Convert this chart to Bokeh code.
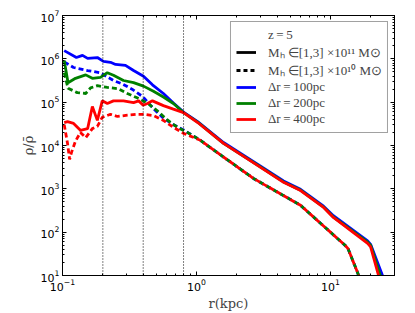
from bokeh.plotting import figure
from bokeh.models import (Range1d, LogAxis, FixedTicker, Span, Legend, LegendItem)
from bokeh.embed import file_html
from bokeh.resources import INLINE

# ---- data (r in kpc, rho/rho_bar) ----
r_b11 = [0.103, 0.127, 0.141, 0.154, 0.182, 0.202, 0.228, 0.249, 0.295, 0.339, 0.402, 0.469,
         0.566, 0.672, 0.80, 1.02, 1.59, 2.85, 4.46, 5.97, 8.87, 10.5, 18.9, 19.9, 24.4]
logrho_b11 = [6.19, 6.03, 6.08, 6.01, 6.03, 5.94, 5.92, 5.87, 5.85, 5.73, 5.60, 5.40,
              5.20, 4.98, 4.77, 4.55, 4.07, 3.57, 3.18, 2.99, 2.60, 2.38, 1.80, 1.72, 1.0]

r_g11 = [0.103, 0.11, 0.125, 0.149, 0.167, 0.192, 0.216, 0.24, 0.285, 0.339, 0.402, 0.477,
         0.566, 0.672, 0.80, 1.02, 1.59, 2.85, 4.46, 5.97, 8.87, 10.5, 18.9, 19.9, 23.5]
logrho_g11 = [5.96, 5.45, 5.55, 5.63, 5.55, 5.57, 5.68, 5.62, 5.50, 5.45, 5.37, 5.25,
              5.12, 4.97, 4.76, 4.54, 4.05, 3.55, 3.16, 2.97, 2.58, 2.35, 1.77, 1.70, 1.0]

r_r11 = [0.103, 0.109, 0.121, 0.136, 0.154, 0.167, 0.182, 0.198, 0.216, 0.24, 0.285, 0.339,
         0.37, 0.40, 0.43, 0.469, 0.566, 0.672, 0.80, 1.02, 1.59, 2.85, 4.46, 5.97, 8.87,
         10.5, 18.9, 19.9, 22.8]
logrho_r11 = [4.53, 4.55, 4.51, 4.35, 4.39, 4.90, 4.58, 5.03, 4.97, 5.03, 5.03, 4.99,
              5.03, 4.93, 4.97, 5.03, 4.92, 4.84, 4.76, 4.53, 4.05, 3.54, 3.15, 2.96, 2.57,
              2.34, 1.74, 1.66, 1.0]

r_b10 = [0.103, 0.121, 0.154, 0.19, 0.24, 0.28, 0.33, 0.40, 0.477, 0.566, 0.672, 0.80,
         1.07, 1.27, 2.66, 5.97, 12.9, 13.5, 15.9, 16.2]
logrho_b10 = [5.93, 5.80, 5.73, 5.68, 5.50, 5.42, 5.30, 5.12, 4.85, 4.63, 4.48, 4.36,
              4.12, 3.95, 3.24, 2.62, 1.69, 1.62, 1.07, 1.0]

r_g10 = [0.103, 0.11, 0.129, 0.149, 0.162, 0.182, 0.216, 0.26, 0.305, 0.36, 0.43, 0.51,
         0.60, 0.72, 0.855, 1.07, 1.27, 2.66, 5.97, 12.9, 13.5, 15.9, 16.2]
logrho_g10 = [5.68, 5.32, 5.22, 5.20, 5.33, 5.38, 5.34, 5.31, 5.20, 5.10, 4.98, 4.80,
              4.60, 4.42, 4.30, 4.12, 3.95, 3.24, 2.62, 1.69, 1.62, 1.07, 1.0]

r_r10 = [0.103, 0.109, 0.113, 0.117, 0.125, 0.136, 0.149, 0.167, 0.182, 0.198, 0.228, 0.257,
         0.305, 0.36, 0.40, 0.477, 0.566, 0.672, 0.80, 1.07, 1.27, 2.66, 5.97, 12.9, 13.5,
         15.9, 16.2]
logrho_r10 = [4.48, 4.05, 3.68, 3.85, 4.10, 4.30, 4.18, 4.39, 4.44, 4.65, 4.72, 4.67,
              4.70, 4.72, 4.72, 4.69, 4.58, 4.42, 4.28, 4.12, 3.95, 3.24, 2.62, 1.69, 1.62,
              1.07, 1.0]

resolution_radii = [0.2, 0.4, 0.8]   # kpc, vertical dotted lines

legend_labels = ["z\u2009=\u20095",
                 "M\u2095 \u2208[1,3] \u00d710\u00b9\u00b9 M\u2299",
                 "M\u2095 \u2208[1,3] \u00d710\u00b9\u2070 M\u2299",
                 "\u0394r\u2009=\u2009100pc",
                 "\u0394r\u2009=\u2009200pc",
                 "\u0394r\u2009=\u2009400pc"]

x_ticks = [0.1, 1, 10]
y_ticks = [1e1, 1e2, 1e3, 1e4, 1e5, 1e6, 1e7]


def rho(lr):
    return [10 ** v for v in lr]


p = figure(frame_width=332, frame_height=260, x_axis_type="log", y_axis_type="log",
           x_range=Range1d(0.1, 30), y_range=Range1d(10, 1e7),
           output_backend="svg", toolbar_location=None,
           min_border_left=62, min_border_right=4, min_border_top=15, min_border_bottom=30)
p.xgrid.visible = False
p.ygrid.visible = False
p.outline_line_color = "black"
p.outline_line_width = 1
p.background_fill_color = "white"
p.border_fill_color = "white"

x_minor = [m * 10 ** k for k in (-1, 0, 1) for m in range(2, 10) if m * 10 ** k <= 30]
y_minor = [m * 10 ** k for k in range(1, 7) for m in range(2, 10)]
xt = FixedTicker(ticks=x_ticks, minor_ticks=x_minor)
yt = FixedTicker(ticks=y_ticks, minor_ticks=y_minor)


def style_axis(ax, ticker, show_labels=True):
    ax.ticker = ticker
    ax.major_tick_in = 4
    ax.major_tick_out = 0
    ax.minor_tick_in = 2
    ax.minor_tick_out = 0
    ax.axis_line_color = "black"
    ax.major_tick_line_color = "black"
    ax.minor_tick_line_color = "black"
    ax.major_label_text_font = "DejaVu Sans"
    ax.major_label_text_font_size = "11px"
    ax.major_label_text_color = "black"
    ax.major_label_standoff = 3
    if not show_labels:
        ax.major_label_text_font_size = "1px"
        ax.major_label_text_color = None
        ax.major_label_standoff = 0


style_axis(p.xaxis[0], xt)
style_axis(p.yaxis[0], yt)
p.xaxis[0].axis_label = "r(kpc)"
p.yaxis[0].axis_label = "\u03c1/\u03c1\u0304"
for ax in (p.xaxis[0], p.yaxis[0]):
    ax.axis_label_text_font = "DejaVu Serif"
    ax.axis_label_text_font_size = "13px"
    ax.axis_label_text_font_style = "normal"
    ax.axis_label_standoff = 2

top = LogAxis()
right = LogAxis()
style_axis(top, xt, False)
style_axis(right, yt, False)
p.add_layout(top, "above")
p.add_layout(right, "right")

for xv in resolution_radii:
    p.add_layout(Span(location=xv, dimension="height", line_color="black",
                      line_width=1, line_dash="1 2"))

lw = 2.8
dash = "5 3"
r1 = p.line(r_b11, rho(logrho_b11), color="#0000ff", line_width=lw)
r2 = p.line(r_b10, rho(logrho_b10), color="#0000ff", line_width=lw, line_dash=dash)
r3 = p.line(r_g11, rho(logrho_g11), color="#008000", line_width=lw)
r4 = p.line(r_g10, rho(logrho_g10), color="#008000", line_width=lw, line_dash=dash)
r5 = p.line(r_r11, rho(logrho_r11), color="#ff0000", line_width=lw)
r6 = p.line(r_r10, rho(logrho_r10), color="#ff0000", line_width=lw, line_dash=dash)

# legend proxies placed outside the visible ranges
px, py = [0.01, 0.011], [1.0, 1.0]
g0 = p.line(px, py, line_alpha=0)
g1 = p.line(px, py, color="black", line_width=lw)
g2 = p.line(px, py, color="black", line_width=lw, line_dash="4 3")
g3 = p.line(px, py, color="#0000ff", line_width=lw)
g4 = p.line(px, py, color="#008000", line_width=lw)
g5 = p.line(px, py, color="#ff0000", line_width=lw)

legend = Legend(items=[LegendItem(label=l, renderers=[g]) for l, g in
                       zip(legend_labels, [g0, g1, g2, g3, g4, g5])],
                location="top_right")
legend.margin = 6
legend.padding = 5
legend.spacing = 0
legend.label_height = 16
legend.glyph_height = 16
legend.glyph_width = 20
legend.label_standoff = 12
legend.label_text_font = "Liberation Serif"
legend.label_text_font_size = "13px"
legend.border_line_color = "#444444"
legend.border_line_width = 1
legend.background_fill_color = "white"
legend.background_fill_alpha = 1
p.add_layout(legend, "center")

open("out.html", "w").write(file_html(p, INLINE))
